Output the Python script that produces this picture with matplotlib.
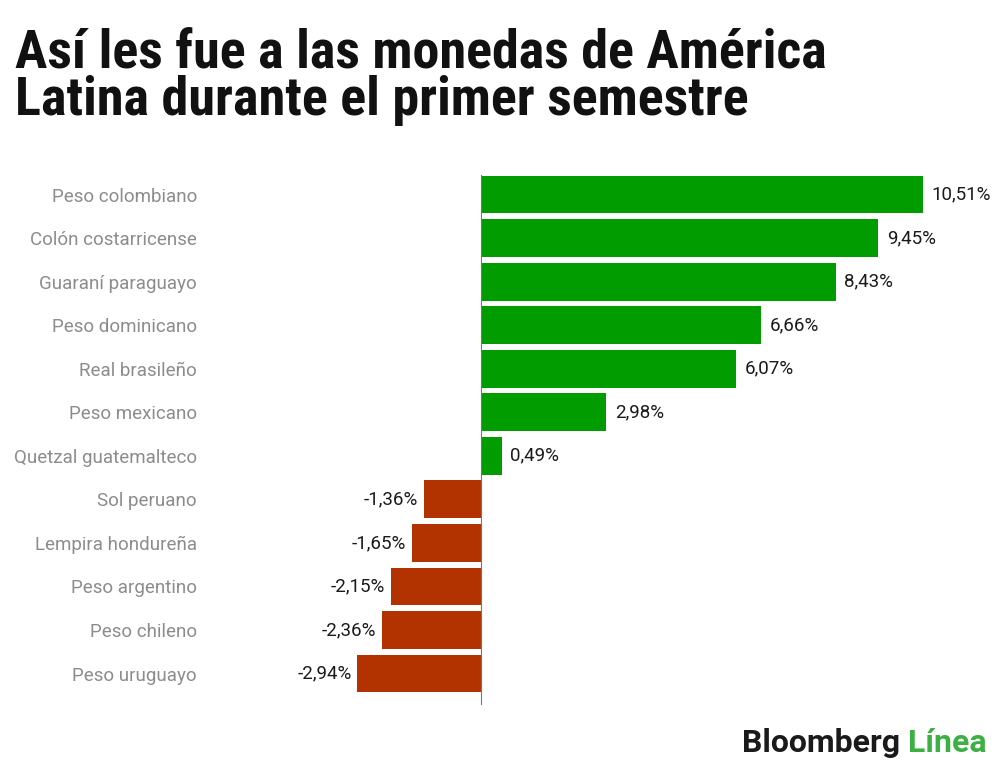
import matplotlib
matplotlib.use("Agg")
import matplotlib.pyplot as plt
from matplotlib import font_manager as fm

monedas = ["Peso colombiano", "Colón costarricense", "Guaraní paraguayo",
           "Peso dominicano", "Real brasileño", "Peso mexicano",
           "Quetzal guatemalteco", "Sol peruano", "Lempira hondureña",
           "Peso argentino", "Peso chileno", "Peso uruguayo"]
variacion = [10.51, 9.45, 8.43, 6.66, 6.07, 2.98, 0.49,
             -1.36, -1.65, -2.15, -2.36, -2.94]

verde = "#009c00"
rojo = "#b23300"
gris = "#8c8c8c"


def pick_font(names):
    for n in names:
        try:
            fm.findfont(fm.FontProperties(family=n), fallback_to_default=False)
            return n
        except Exception:
            pass
    return "DejaVu Sans"


titulo_font = pick_font(["Roboto Condensed", "Liberation Sans Narrow", "Roboto"])
texto_font = pick_font(["Roboto", "Liberation Sans"])

W, H = 1000, 765
fig = plt.figure(figsize=(W / 100, H / 100), dpi=100)

# axes in pixel terms: x 300..960, y 175..705
ax = fig.add_axes([300 / W, 1 - 705 / H, 660 / W, 530 / H])
px_unit = (923 - 481) / 10.51
ax.set_xlim((300 - 481) / px_unit, (960 - 481) / px_unit)
ypos = list(range(len(monedas)))
ax.set_ylim((705 - 194.5) / 43.55, (175 - 194.5) / 43.55)

colores = [verde if v >= 0 else rojo for v in variacion]
ax.barh(ypos, variacion, height=0.87, color=colores, zorder=2)
ax.axvline(0, color="#777777", lw=0.8, zorder=3)

for y, v in zip(ypos, variacion):
    txt = f"{v:.2f}".replace(".", ",") + "%"
    if v >= 0:
        ax.annotate(txt, (v, y), xytext=(6, 0), textcoords="offset points",
                    ha="left", va="center", fontsize=13.5, color="#1a1a1a",
                    family=texto_font, annotation_clip=False)
    else:
        ax.annotate(txt, (v, y), xytext=(-4, 0), textcoords="offset points",
                    ha="right", va="center", fontsize=13.5, color="#1a1a1a",
                    family=texto_font)

ax.set_yticks(ypos)
ax.set_yticklabels(monedas, fontsize=13.5, color=gris, family=texto_font)
ax.tick_params(axis="y", length=0, pad=(300 - 197) * 0.72)
ax.set_xticks([])
for s in ax.spines.values():
    s.set_visible(False)

fig.text(15 / W, 1 - 68 / H, "Así les fue a las monedas de América",
         fontsize=39, fontweight="bold", family=titulo_font, color="#111111")
fig.text(15 / W, 1 - 115 / H, "Latina durante el primer semestre",
         fontsize=39, fontweight="bold", family=titulo_font, color="#111111")

# logo
t1 = fig.text(742 / W, 1 - 752 / H, "Bloomberg ", fontsize=23,
              fontweight="bold", family=texto_font, color="#1a1a1a")
fig.canvas.draw()
bb = t1.get_window_extent()
fig.text(bb.x1 / W, 1 - 752 / H, "Línea", fontsize=23, fontweight="bold",
         family=texto_font, color="#3cb043")

fig.savefig("out.png", dpi=100)
